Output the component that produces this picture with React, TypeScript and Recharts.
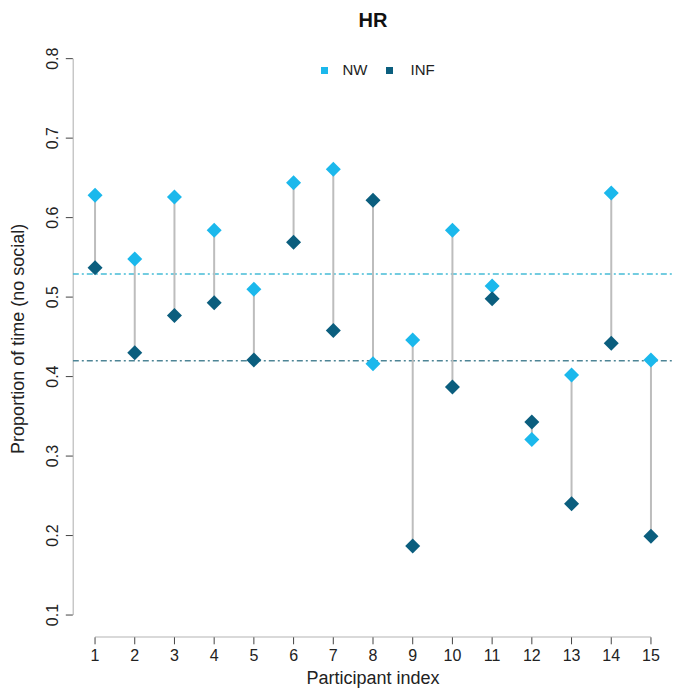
import React from 'react';
import { ComposedChart, XAxis, YAxis, Scatter, Legend, Label } from 'recharts';

const participants = [1, 2, 3, 4, 5, 6, 7, 8, 9, 10, 11, 12, 13, 14, 15];
const nwValues = [0.628, 0.548, 0.626, 0.584, 0.510, 0.644, 0.661, 0.416, 0.446, 0.584, 0.514, 0.321, 0.402, 0.631, 0.421];
const infValues = [0.537, 0.430, 0.477, 0.493, 0.421, 0.569, 0.458, 0.622, 0.187, 0.387, 0.498, 0.343, 0.240, 0.442, 0.199];
const nwMean = 0.529;
const infMean = 0.420;
const xTicks = [1, 2, 3, 4, 5, 6, 7, 8, 9, 10, 11, 12, 13, 14, 15];
const yTicks = [0.1, 0.2, 0.3, 0.4, 0.5, 0.6, 0.7, 0.8];
const xDomain: [number, number] = [0.44, 15.56];
const yDomain: [number, number] = [0.072, 0.828];

const FONT = '"Liberation Sans", Arial, Helvetica, sans-serif';
const NW_COLOR = '#1BB8EC';
const INF_COLOR = '#0B5E7E';
const NW_MEAN_COLOR = '#45BCD6';
const INF_MEAN_COLOR = '#4E8596';
const STEM_COLOR = '#BDBDBD';
const AXIS_COLOR = '#444444';
const TEXT_COLOR = '#222222';

const nwData = participants.map((p, i) => ({ x: p, y: nwValues[i] }));
const infData = participants.map((p, i) => ({ x: p, y: infValues[i] }));
const stems = participants.map((p, i) => [
  { x: p, y: nwValues[i] },
  { x: p, y: infValues[i] },
]);
const nwMeanLine = [
  { x: xDomain[0], y: nwMean },
  { x: xDomain[1], y: nwMean },
];
const infMeanLine = [
  { x: xDomain[0], y: infMean },
  { x: xDomain[1], y: infMean },
];
const xAxisLine = [
  { x: xTicks[0], y: yDomain[0] },
  { x: xTicks[xTicks.length - 1], y: yDomain[0] },
];
const yAxisLine = [
  { x: xDomain[0], y: yTicks[0] },
  { x: xDomain[0], y: yTicks[yTicks.length - 1] },
];

const makeDiamond = (color: string) => (props: any) => {
  const { cx, cy } = props;
  if (cx == null || cy == null) return <g />;
  const r = 7.5;
  return (
    <polygon
      points={`${cx},${cy - r} ${cx + r},${cy} ${cx},${cy + r} ${cx - r},${cy}`}
      fill={color}
    />
  );
};

const NoShape = () => <g />;

const YTick = (props: any) => {
  const { x, y, payload } = props;
  const tx = x - 8;
  return (
    <text
      x={tx}
      y={y}
      transform={`rotate(-90, ${tx}, ${y})`}
      textAnchor="middle"
      fill={TEXT_COLOR}
      fontSize={16}
      fontFamily={FONT}
    >
      {Number(payload.value).toFixed(1)}
    </text>
  );
};

const LegendContent = () => (
  <div style={{ position: 'relative', width: 685, height: 24, fontFamily: FONT, fontSize: 15, color: TEXT_COLOR }}>
    <div style={{ position: 'absolute', left: 320.5, top: 8.5, width: 7, height: 7, background: NW_COLOR }} />
    <div style={{ position: 'absolute', left: 342.5, top: 3, lineHeight: '17px' }}>NW</div>
    <div style={{ position: 'absolute', left: 386, top: 8.5, width: 7, height: 7, background: INF_COLOR }} />
    <div style={{ position: 'absolute', left: 410.5, top: 3, lineHeight: '17px' }}>INF</div>
  </div>
);

export default function App() {
  return (
    <div style={{ position: 'absolute', left: 0, top: 0, width: 685, height: 695, background: '#ffffff' }}>
      <ComposedChart
        width={685}
        height={695}
        margin={{ top: 36.4, right: 11.8, bottom: 17.7, left: 12.8 }}
      >
        <text x={373} y={27} textAnchor="middle" fontFamily={FONT} fontWeight="bold" fontSize={20} fill="#111">
          HR
        </text>
        <XAxis
          type="number"
          dataKey="x"
          domain={xDomain}
          allowDataOverflow
          ticks={xTicks}
          interval={0}
          axisLine={false}
          tickSize={7}
          tickMargin={5}
          height={40}
          tick={{ fill: TEXT_COLOR, fontSize: 16, fontFamily: FONT }}
          tickLine={{ stroke: AXIS_COLOR }}
        >
          <Label
            content={(props: any) => {
              const vb = props.viewBox || { x: 72.8, y: 637.3, width: 600.4, height: 40 };
              return (
                <text
                  x={vb.x + vb.width / 2}
                  y={vb.y + vb.height + 7}
                  textAnchor="middle"
                  fontFamily={FONT}
                  fontSize={18}
                  fill={TEXT_COLOR}
                >
                  Participant index
                </text>
              );
            }}
          />
        </XAxis>
        <YAxis
          type="number"
          dataKey="y"
          domain={yDomain}
          allowDataOverflow
          ticks={yTicks}
          interval={0}
          width={60}
          axisLine={false}
          tickSize={7}
          tickMargin={0}
          tick={<YTick />}
          tickLine={{ stroke: AXIS_COLOR }}
        >
          <Label
            content={(props: any) => {
              const vb = props.viewBox || { x: 12.8, y: 36.4, width: 60, height: 600.9 };
              const cy = vb.y + vb.height / 2 + 2;
              const tx = 24;
              return (
                <text
                  x={tx}
                  y={cy}
                  transform={`rotate(-90, ${tx}, ${cy})`}
                  textAnchor="middle"
                  fontFamily={FONT}
                  fontSize={18}
                  fill={TEXT_COLOR}
                >
                  Proportion of time (no social)
                </text>
              );
            }}
          />
        </YAxis>
        <Legend
          verticalAlign="middle"
          align="center"
          layout="horizontal"
          content={<LegendContent />}
          wrapperStyle={{ top: 58, left: 0, width: 685, height: 24 }}
        />
        <Scatter
          name="xaxis"
          data={xAxisLine}
          line={{ stroke: AXIS_COLOR, strokeWidth: 1 }}
          shape={<NoShape />}
          isAnimationActive={false}
          legendType="none"
        />
        <Scatter
          name="yaxis"
          data={yAxisLine}
          line={{ stroke: AXIS_COLOR, strokeWidth: 1 }}
          shape={<NoShape />}
          isAnimationActive={false}
          legendType="none"
        />
        <Scatter
          name="nwMean"
          data={nwMeanLine}
          line={{ stroke: NW_MEAN_COLOR, strokeWidth: 1.5, strokeDasharray: '6 3 2 3' }}
          shape={<NoShape />}
          isAnimationActive={false}
          legendType="none"
        />
        <Scatter
          name="infMean"
          data={infMeanLine}
          line={{ stroke: INF_MEAN_COLOR, strokeWidth: 1.5, strokeDasharray: '6 3 2 3' }}
          shape={<NoShape />}
          isAnimationActive={false}
          legendType="none"
        />
        {stems.map((s, i) => (
          <Scatter
            key={`stem-${i}`}
            name={`stem${i}`}
            data={s}
            line={{ stroke: STEM_COLOR, strokeWidth: 2 }}
            shape={<NoShape />}
            isAnimationActive={false}
            legendType="none"
          />
        ))}
        <Scatter name="NW" data={nwData} shape={makeDiamond(NW_COLOR)} fill={NW_COLOR} isAnimationActive={false} />
        <Scatter name="INF" data={infData} shape={makeDiamond(INF_COLOR)} fill={INF_COLOR} isAnimationActive={false} />
      </ComposedChart>
    </div>
  );
}
